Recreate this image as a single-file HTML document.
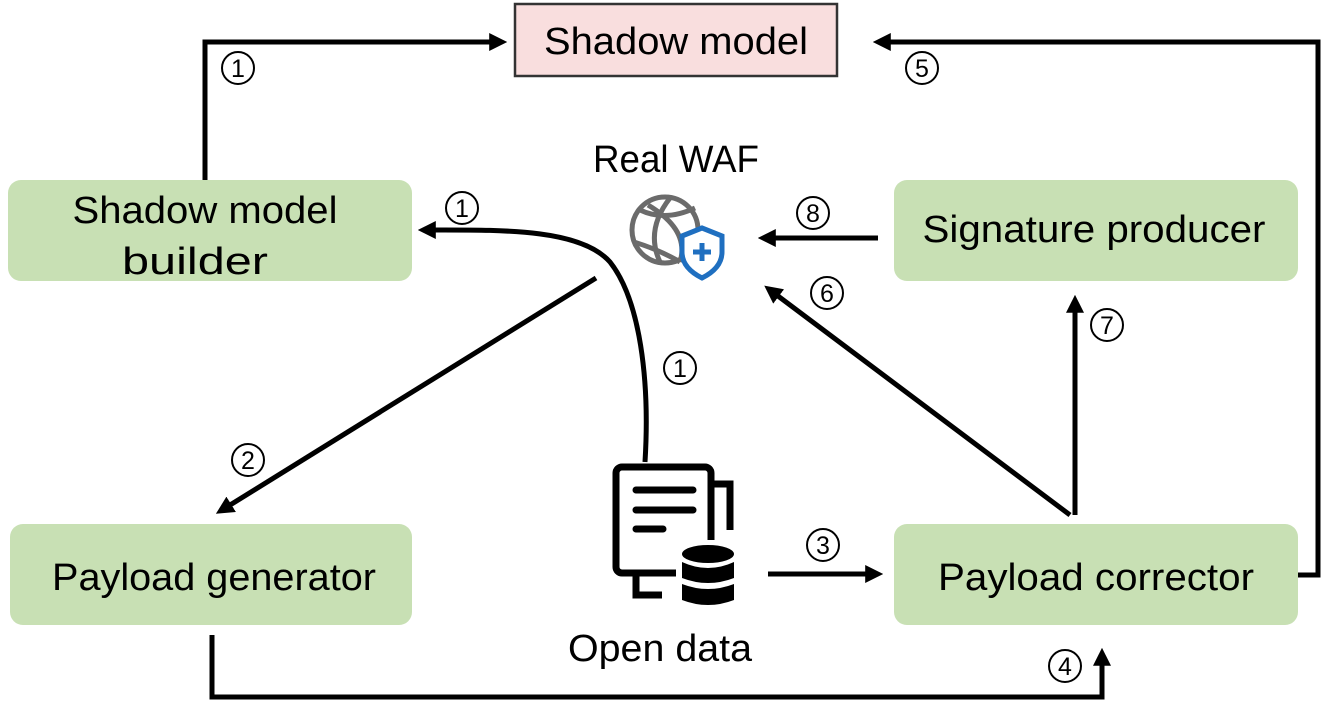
<!DOCTYPE html>
<html><head><style>body{margin:0;background:#fff}svg{display:block}text{font-family:"Liberation Sans","DejaVu Sans",sans-serif}</style></head>
<body>
<svg width="1330" height="709" viewBox="0 0 1330 709" xmlns="http://www.w3.org/2000/svg">
<defs>
<marker id="b" viewBox="0 0 10 10" refX="6" refY="5" markerWidth="18" markerHeight="18" orient="auto" markerUnits="userSpaceOnUse"><path d="M0,0 L10,5 L0,10 z" fill="#000"/></marker></defs>
<rect x="515" y="4" width="322" height="72" fill="#f9dede" stroke="#333" stroke-width="2.5"/>
<text x="676" y="54" font-size="38" text-anchor="middle" textLength="264" lengthAdjust="spacingAndGlyphs">Shadow model</text>
<g fill="#c8e0b4">
<rect x="8" y="180" width="404" height="101" rx="13"/>
<rect x="894" y="180" width="404" height="101" rx="13"/>
<rect x="10" y="524" width="402" height="101" rx="13"/>
<rect x="894" y="524" width="404" height="101" rx="13"/>
</g>
<g font-size="38" text-anchor="middle">
<text x="205" y="223" textLength="265" lengthAdjust="spacingAndGlyphs">Shadow model</text><text x="195" y="274" textLength="146" lengthAdjust="spacingAndGlyphs">builder</text>
<text x="1094" y="242" textLength="343" lengthAdjust="spacingAndGlyphs">Signature producer</text>
<text x="214" y="590" textLength="324" lengthAdjust="spacingAndGlyphs">Payload generator</text>
<text x="1096" y="590" textLength="316" lengthAdjust="spacingAndGlyphs">Payload corrector</text>
<text x="676" y="172" textLength="166" lengthAdjust="spacingAndGlyphs">Real WAF</text>
<text x="660" y="661" textLength="184" lengthAdjust="spacingAndGlyphs">Open data</text>
</g>
<g fill="none" stroke="#000" stroke-width="5">
<path d="M205,180 V42 H500" marker-end="url(#b)"/>
<path d="M1298,575 H1318 V42 H880" marker-end="url(#b)"/>
<path d="M212,635 V697 H1102 V655" marker-end="url(#b)"/>
<path d="M645,462 C650,380 640,300 610,262 C580,228 500,230 425,230" marker-end="url(#b)"/>
<path d="M596,278 L222,510" marker-end="url(#b)"/>
<path d="M768,574 H876" marker-end="url(#b)"/>
<path d="M1075,515 V302" marker-end="url(#b)"/>
<path d="M1070,515 L770,290" marker-end="url(#b)"/>
<path d="M878,238 H765" marker-end="url(#b)"/>
</g>
<g fill="none" stroke="#000" stroke-width="2">
<circle cx="238" cy="68" r="16"/><circle cx="922" cy="68" r="16"/><circle cx="462" cy="208" r="16"/>
<circle cx="813" cy="213" r="16"/><circle cx="827" cy="293" r="16"/><circle cx="1107" cy="325" r="16"/>
<circle cx="680" cy="368" r="16"/><circle cx="248" cy="460" r="16"/><circle cx="823" cy="545" r="16"/>
<circle cx="1065" cy="666" r="16"/>
</g>
<g font-size="25" text-anchor="middle">
<text x="238" y="77">1</text><text x="922" y="77">5</text><text x="462" y="217">1</text>
<text x="813" y="222">8</text><text x="827" y="302">6</text><text x="1107" y="334">7</text>
<text x="680" y="377">1</text><text x="248" y="469">2</text><text x="823" y="554">3</text>
<text x="1065" y="675">4</text>
</g>
<g fill="none" stroke="#6b6b6b" stroke-width="5">
<circle cx="665" cy="230" r="33"/>
<path d="M640,210 Q665,222 695,208"/><path d="M634,242 Q660,250 680,262"/>
<path d="M648,205 Q690,230 680,262"/><path d="M670,198 Q645,230 660,262"/>
</g>
<path d="M702,228 L722,236 V252 Q722,268 702,278 Q682,268 682,252 V236 Z" fill="#fff" stroke="#1f6fc0" stroke-width="5"/>
<path d="M702,243 V261 M693,252 H711" stroke="#1f6fc0" stroke-width="5"/>
<g fill="none" stroke="#000" stroke-width="7">
<path d="M714,484 H730 V530"/>
<path d="M636,575 V595 H662"/>
<rect x="616" y="467" width="95" height="106" rx="6"/>
</g>
<path d="M636,490 H693 M636,510 H693 M636,529 H663" stroke="#000" stroke-width="7" stroke-linecap="round"/>
<rect x="676" y="540" width="64" height="76" fill="#fff"/>
<g fill="#000"><ellipse cx="708" cy="554" rx="26" ry="9"/>
<path d="M682,562 Q708,574 734,562 V578 Q708,588 682,578 Z"/>
<path d="M682,584 Q708,594 734,584 V600 Q708,610 682,600 Z"/></g>
</svg>
</body></html>
